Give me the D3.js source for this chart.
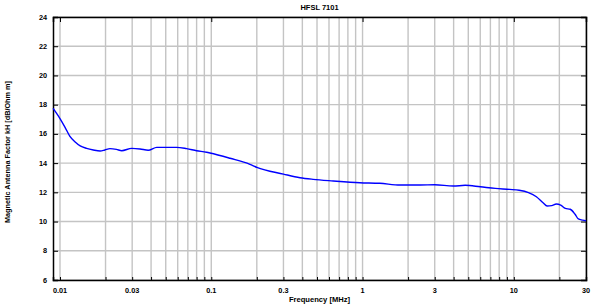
<!DOCTYPE html>
<html>
<head>
<meta charset="utf-8">
<script src="https://cdn.jsdelivr.net/npm/d3@7"></script>
<style>
  body { margin: 0; background: #fff; }
  text { font-family: "Liberation Sans", Arial, sans-serif; font-weight: bold; fill: #000; }
</style>
</head>
<body>
<div id="chart"></div>
<script>
// chart data
var title = "HFSL 7101";
var xLabel = "Frequency [MHz]";
var yLabel = "Magnetic Antenna Factor kH [dB/Ohm m]";
var xTickValues = [0.01, 0.03, 0.1, 0.3, 1, 3, 10, 30];
var xTickLabels = ["0.01", "0.03", "0.1", "0.3", "1", "3", "10", "30"];
var yTickValues = [6, 8, 10, 12, 14, 16, 18, 20, 22, 24];

var freq = [0.009, 0.01, 0.0108, 0.0116, 0.0126, 0.0136, 0.015, 0.0166, 0.0184, 0.0198, 0.0214,
  0.0236, 0.0256, 0.0298, 0.0338, 0.0383, 0.0436, 0.059, 0.0687, 0.080, 0.093, 0.098, 0.133,
  0.180, 0.200, 0.300, 0.386, 0.471, 0.640, 0.96, 1.3, 1.77, 2.41, 3.0, 3.98, 4.77, 6.0,
  7.55, 9.38, 10.84, 12.5, 14.1, 15.6, 16.6, 17.8, 19.1, 20.4, 21.9, 23.6, 25.4, 26.7, 28.5, 30];
var kH = [17.75, 17.05, 16.45, 15.85, 15.45, 15.18, 15.01, 14.90, 14.83, 14.90, 14.99,
  14.94, 14.85, 15.01, 14.97, 14.88, 15.08, 15.08, 14.99, 14.85, 14.74, 14.69, 14.33,
  13.92, 13.71, 13.25, 13.0, 12.89, 12.78, 12.66, 12.62, 12.5, 12.5, 12.52, 12.43, 12.48, 12.38,
  12.27, 12.20, 12.14, 11.98, 11.70, 11.29, 11.06, 11.09, 11.20, 11.13, 10.90, 10.84, 10.50, 10.18, 10.1, 10.05];

var svgWidth = 593;
var svgHeight = 307;
var margin = { top: 17, right: 7, bottom: 27, left: 53 };
var width = svgWidth - margin.left - margin.right;
var height = svgHeight - margin.top - margin.bottom;

var svg = d3.select("#chart")
  .append("svg")
  .attr("width", svgWidth)
  .attr("height", svgHeight);

var chartGroup = svg.append("g")
  .attr("transform", `translate(${margin.left}, ${margin.top})`);

var xScale = d3.scaleLog()
  .domain([0.00899, 30])
  .range([0, width]);

var yScale = d3.scaleLinear()
  .domain([6, 24])
  .range([height, 0]);

// every 1..9 multiple gets a grid line
var gridX = [];
[0.01, 0.1, 1, 10].forEach(function(dec) {
  for (var i = 1; i <= 9; i++) {
    var v = dec * i;
    if (v <= 30.0001) gridX.push(v);
  }
});

chartGroup.append("g")
  .selectAll("line")
  .data(gridX)
  .enter()
  .append("line")
  .attr("x1", d => xScale(d))
  .attr("x2", d => xScale(d))
  .attr("y1", 0)
  .attr("y2", height)
  .attr("stroke", "#c4c4c4")
  .attr("stroke-width", 1.4);

chartGroup.append("g")
  .selectAll("line")
  .data(yTickValues)
  .enter()
  .append("line")
  .attr("x1", 0)
  .attr("x2", width)
  .attr("y1", d => yScale(d))
  .attr("y2", d => yScale(d))
  .attr("stroke", "#c4c4c4")
  .attr("stroke-width", 1.4);

// axes: ticks point inwards, labels placed by hand
var bottomAxis = d3.axisBottom(xScale).tickValues(gridX).tickSize(-3).tickFormat("");
var topAxis = d3.axisTop(xScale).tickValues([0.01, 0.1, 1, 10]).tickSize(-5).tickFormat("");
var leftAxis = d3.axisLeft(yScale).tickValues(yTickValues).tickSize(-5).tickFormat("");
var rightAxis = d3.axisRight(yScale).tickValues(yTickValues).tickSize(-5).tickFormat("");

chartGroup.append("g").attr("class", "axis")
  .attr("transform", `translate(0, ${height})`)
  .call(bottomAxis);
chartGroup.append("g").attr("class", "axis")
  .call(topAxis);
chartGroup.append("g").attr("class", "axis")
  .call(leftAxis);
chartGroup.append("g").attr("class", "axis")
  .attr("transform", `translate(${width}, 0)`)
  .call(rightAxis);

chartGroup.selectAll(".axis path").attr("stroke", "#000").attr("stroke-width", 1.5);
chartGroup.selectAll(".axis line").attr("stroke", "#000").attr("stroke-width", 1);

// tick labels
chartGroup.append("g")
  .selectAll("text")
  .data(xTickValues)
  .enter()
  .append("text")
  .attr("x", d => xScale(d))
  .attr("y", height + 13)
  .attr("text-anchor", "middle")
  .attr("font-size", "7.3px")
  .text((d, i) => xTickLabels[i]);

chartGroup.append("g")
  .selectAll("text")
  .data(yTickValues)
  .enter()
  .append("text")
  .attr("x", -6)
  .attr("y", d => yScale(d) + 2.5)
  .attr("text-anchor", "end")
  .attr("font-size", "7.3px")
  .text(d => d);

// the curve
var line = d3.line()
  .x(d => xScale(d[0]))
  .y(d => yScale(d[1]))
  .curve(d3.curveMonotoneX);

chartGroup.append("path")
  .datum(freq.map((f, i) => [f, kH[i]]))
  .attr("d", line)
  .attr("fill", "none")
  .attr("stroke", "#0000ff")
  .attr("stroke-width", 1.4);

// titles
svg.append("text")
  .attr("x", margin.left + width / 2)
  .attr("y", 10)
  .attr("text-anchor", "middle")
  .attr("font-size", "7.5px")
  .text(title);

svg.append("text")
  .attr("x", margin.left + width / 2)
  .attr("y", 302)
  .attr("text-anchor", "middle")
  .attr("font-size", "7.6px")
  .text(xLabel);

svg.append("text")
  .attr("transform", "translate(10, 152) rotate(-90)")
  .attr("text-anchor", "middle")
  .attr("font-size", "7.3px")
  .text(yLabel);
</script>
</body>
</html>
